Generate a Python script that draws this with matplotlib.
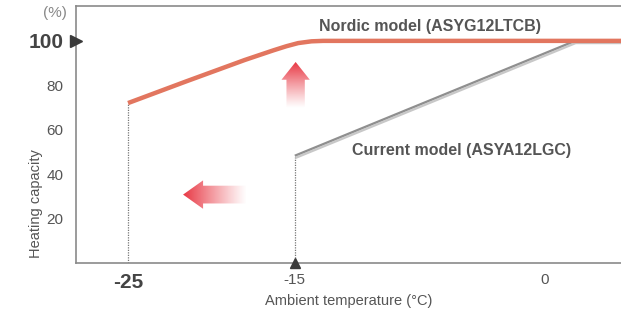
import numpy as np
import matplotlib
matplotlib.use("Agg")
import matplotlib.pyplot as plt
import matplotlib.patheffects as pe
from matplotlib.patches import Polygon

plt.rcParams['font.family'] = ['Liberation Sans', 'DejaVu Sans']

# data
nordic_t = [-25, -21.5, -18, -16.3, -15.5, -14.8, -14.0, -13.3, 5]
nordic_cap = [72, 81.8, 91.4, 95.7, 97.6, 99.0, 99.8, 100, 100]
current_t = [-15, 1.8, 5]
current_cap = [48.3, 100, 100]
yticks = [20, 40, 60, 80, 100]
xticks = [-25, -15, 0, 5]
xlabels = ['-25', '-15', '0', '5']

text_col = '#555555'
spine_col = '#8a8a8a'
orange = '#e2765f'

fig = plt.figure(figsize=(6.21, 3.13), dpi=100)
ax = fig.add_axes([76/621, 50/313, 545/621, 257/313])

for s in ['left', 'bottom', 'top']:
    ax.spines[s].set_color(spine_col)
    ax.spines[s].set_linewidth(1.2)
ax.spines['right'].set_visible(False)

# dotted drop lines
ax.plot([nordic_t[0]] * 2, [0, nordic_cap[0]], ls=(0, (1, 1)), color='#777777', lw=0.9)
ax.plot([current_t[0]] * 2, [0, current_cap[0]], ls=(0, (1, 1)), color='#777777', lw=0.9)

# current model line with light shadow
ax.plot(current_t, current_cap, color='#8f8f8f', lw=1.6, solid_capstyle='butt',
        path_effects=[pe.SimpleLineShadow(offset=(0.5, -1.6), shadow_color='#c8c8c8', alpha=1),
                      pe.Normal()], zorder=3)
ax.plot(nordic_t, nordic_cap, color=orange, lw=3.2, solid_capstyle='butt',
        solid_joinstyle='round', zorder=4)

# triangle markers
ax.plot([-15], [0], marker='^', color='#3a3a3a', ms=7, clip_on=False, zorder=5)
ax.plot([-28.1], [100], marker='>', color='#3a3a3a', ms=9, clip_on=False, zorder=5)


def gradient_arrow(pts, extent, direction):
    poly = Polygon(pts, closed=True, facecolor='none', edgecolor='none')
    ax.add_patch(poly)
    g = np.linspace(0, 1, 100)
    rgba = np.zeros((100, 100, 4))
    rgba[..., 0] = 0.91
    rgba[..., 1] = 0.22
    rgba[..., 2] = 0.27
    if direction == 'up':
        rgba[..., 3] = (g ** 1.1)[:, None] * np.ones((1, 100))
    else:
        rgba[..., 3] = ((1 - g) ** 1.1)[None, :] * np.ones((100, 1))
    im = ax.imshow(rgba, extent=extent, origin='lower', aspect='auto', zorder=2)
    im.set_clip_path(poly)


# up arrow
cx, y0, y1, hb = -14.95, 70, 90.5, 82.5
gradient_arrow([(cx - 0.55, y0), (cx + 0.55, y0), (cx + 0.55, hb), (cx + 0.85, hb),
                (cx, y1), (cx - 0.85, hb), (cx - 0.55, hb)],
               [cx - 0.9, cx + 0.9, y0, y1], 'up')
# left arrow
cy, x0, x1, xb = 30.8, -17.9, -21.7, -20.5
gradient_arrow([(x0, cy - 4.0), (x0, cy + 4.0), (xb, cy + 4.0), (xb, cy + 6.4),
                (x1, cy), (xb, cy - 6.4), (xb, cy - 4.0)],
               [x1, x0, cy - 6.5, cy + 6.5], 'left')

ax.text(-6.9, 106.5, 'Nordic model (ASYG12LTCB)', color=text_col, fontsize=11.5,
        fontweight='bold', ha='center', va='center')
ax.text(-5.0, 50.5, 'Current model (ASYA12LGC)', color=text_col, fontsize=11.5,
        fontweight='bold', ha='center', va='center')

ax.set_yticks(yticks)
ax.set_yticklabels([str(v) for v in yticks])
ax.set_xticks(xticks)
ax.set_xticklabels(xlabels)
ax.tick_params(length=0, colors=text_col, labelsize=11)
ax.tick_params(axis='x', pad=7)
ax.tick_params(axis='y', pad=9)
for lab in ax.get_yticklabels():
    if lab.get_text() == '100':
        lab.set_fontsize(15)
        lab.set_fontweight('bold')
        lab.set_color('#444444')
for lab in ax.get_xticklabels():
    if lab.get_text() == '-25':
        lab.set_fontsize(15)
        lab.set_fontweight('bold')
        lab.set_color('#444444')

ax.set_xlabel('Ambient temperature (°C)', color=text_col, fontsize=10.5, labelpad=2)
ax.set_ylabel('Heating capacity', color=text_col, fontsize=10.5)
ax.yaxis.set_label_coords(-0.06, 0.23)
fig.text(55/621, 1 - 13/313, '(%)', color='#888888', fontsize=11, ha='center', va='center')

# the "5" tick falls just past the right edge; only a sliver shows
ax.text(xticks[-1], -6.6, xlabels[-1], color=text_col, fontsize=11,
        ha='center', va='center', clip_on=False)

ax.set_xlim(-28.12, 4.56)
ax.set_ylim(0, 115.7)

fig.savefig('out.png', dpi=100)
